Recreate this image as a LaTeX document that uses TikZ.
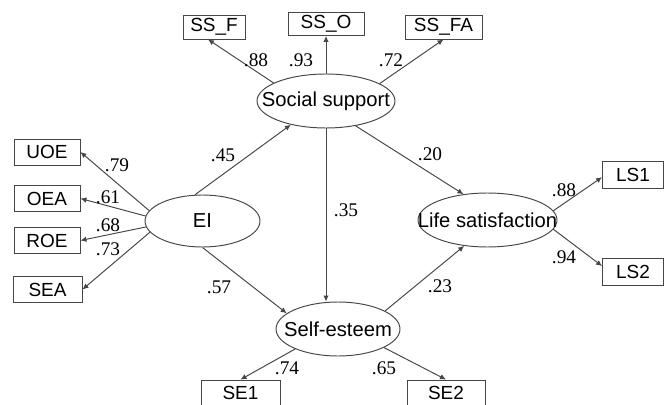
\documentclass[tikz,border=0pt]{standalone}
\usepackage{fontspec}
\setmainfont{Liberation Serif}
\newfontfamily\arialfont{Liberation Sans}
\usepackage{tikz}
\usetikzlibrary{shapes.geometric, arrows.meta}
\definecolor{cLine}{RGB}{70,70,70}
\tikzset{
	indicator/.style={rectangle, draw=cLine, line width=0.5pt, minimum height=0.52cm, inner sep=0pt, font=\arialfont\fontsize{10.8}{12}\selectfont},
	latent/.style   ={ellipse, draw=cLine, line width=0.55pt, minimum height=1.08cm, inner sep=0pt},
	patharrow/.style={-{Latex[length=1.2mm,width=1.1mm]}, line width=0.55pt, cLine},
	coef/.style     ={font=\fontsize{11}{12}\selectfont, inner sep=0pt},
	every label/.style={font=\arialfont\fontsize{11.5}{13}\selectfont, inner sep=0pt},
}

\begin{document}
\begin{tikzpicture}[x=0.02cm, y=-0.02cm]
	\useasboundingbox (0,0) rectangle (665,405);
	% latent variables
	\node[latent, minimum width=2.76cm, label=center:Social support] (ss) at (326,101) {};
	\node[latent, minimum width=2.30cm, minimum height=1.04cm, label=center:EI] (ei) at (202.5,221) {};
	\node[latent, minimum width=2.78cm, label=center:Life satisfaction] (ls) at (487.5,220) {};
	\node[latent, minimum width=2.48cm, label=center:Self-esteem] (se) at (338,329) {};
	% indicators
	\node[indicator, minimum width=1.24cm, minimum height=0.48cm] (ssf) at (214,27) {SS\_F};
	\node[indicator, minimum width=1.52cm, minimum height=0.46cm] (sso) at (326,24) {SS\_O};
	\node[indicator, minimum width=1.54cm, minimum height=0.48cm] (ssfa) at (443.5,27) {SS\_FA};
	\node[indicator, minimum width=1.32cm] (uoe) at (47,152) {UOE};
	\node[indicator, minimum width=1.32cm] (oea) at (47,198.5) {OEA};
	\node[indicator, minimum width=1.32cm] (roe) at (47,240.5) {ROE};
	\node[indicator, minimum width=1.38cm] (sea) at (47.5,289.5) {SEA};
	\node[indicator, minimum width=1.22cm, minimum height=0.54cm] (ls1) at (633,174.5) {LS1};
	\node[indicator, minimum width=1.22cm, minimum height=0.54cm] (ls2) at (633,271.5) {LS2};
	\node[indicator, minimum width=1.58cm] (se1) at (240.5,393) {SE1};
	\node[indicator, minimum width=1.56cm] (se2) at (446,393) {SE2};
	% measurement paths
	\draw[patharrow] (ss.161) -- ([xshift=-0.12cm]ssf.south);
	\draw[patharrow] (ss.north) -- (sso.south);
	\draw[patharrow] (ss.18) -- (ssfa.south);
	\draw[patharrow] (ei.169) -- (uoe.east);
	\draw[patharrow] (ei.175) -- (oea.east);
	\draw[patharrow] (ei.186) -- (roe.east);
	\draw[patharrow] (ei.192) -- (sea.east);
	\draw[patharrow] (ls.8) -- (ls1.185);
	\draw[patharrow] (ls.-8) -- (ls2.170);
	\draw[patharrow] (se.205) -- (se1.north);
	\draw[patharrow] (se.-22) -- (se2.north);
	% structural paths
	\draw[patharrow] (ei.106) -- (ss.214);
	\draw[patharrow] (ei.south) -- (se.163);
	\draw[patharrow] (ss.south) -- (ss.south |- se.north);
	\draw[patharrow] (ss.-40) -- (ls.133);
	\draw[patharrow] (se.21) -- (ls.228);
	% coefficients
	\node[coef] (cssf) at (256,60) {.88};
	\node[coef] (csso) at (301,60) {.93};
	\node[coef] (cssfa) at (391,60) {.72};
	\node[coef] (cuoe) at (117,165) {.79};
	\node[coef] (coea) at (108,197) {.61};
	\node[coef] (croe) at (108,225) {.68};
	\node[coef] (csea) at (108,249) {.73};
	\node[coef] (ceiss) at (223,155) {.45};
	\node[coef] (cssse) at (346,210) {.35};
	\node[coef] (cssls) at (430,154) {.20};
	\node[coef] (ceise) at (219,287) {.57};
	\node[coef] (csels) at (440,286) {.23};
	\node[coef] (cls1) at (564,190) {.88};
	\node[coef] (cls2) at (564,257) {.94};
	\node[coef] (cse1) at (287,368) {.74};
	\node[coef] (cse2) at (384,368) {.65};
\end{tikzpicture}
\end{document}
